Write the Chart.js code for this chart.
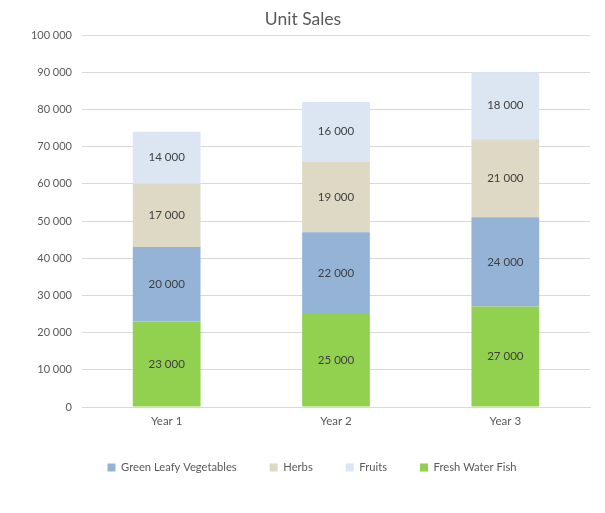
<!DOCTYPE html>
<html>
<head>
<meta charset="utf-8">
<script src="https://cdn.jsdelivr.net/npm/chart.js@4.4.0/dist/chart.umd.min.js"></script>
<style>
html,body{margin:0;padding:0;background:#fff;}
#wrap{width:605px;height:513px;position:relative;}
</style>
</head>
<body>
<div id="wrap"><canvas id="c" width="605" height="513"></canvas></div>
<script>
const categories = ["Year 1", "Year 2", "Year 3"];
const freshWaterFish = [23000, 25000, 27000];
const greenLeafyVegetables = [20000, 22000, 24000];
const herbs = [17000, 19000, 21000];
const fruits = [14000, 16000, 18000];
const legendOrder = ["Green Leafy Vegetables", "Herbs", "Fruits", "Fresh Water Fish"];

const FONT = "Lato, 'Liberation Sans', sans-serif";
const fmt = v => String(v).replace(/\B(?=(\d{3})+(?!\d))/g, " ");

const dataLabels = {
  id: 'dataLabels',
  afterDatasetsDraw(chart) {
    const ctx = chart.ctx;
    ctx.save();
    ctx.font = "11.5px " + FONT;
    ctx.fillStyle = "#404040";
    ctx.textAlign = "center";
    ctx.textBaseline = "middle";
    chart.data.datasets.forEach((ds, i) => {
      const meta = chart.getDatasetMeta(i);
      meta.data.forEach((bar, j) => {
        const y = (bar.y + bar.base) / 2;
        ctx.fillText(fmt(ds.data[j]), bar.x, y);
      });
    });
    ctx.restore();
  }
};

const shiftBoxes = {
  id: 'shiftBoxes',
  beforeDraw(chart) {
    const lg = chart.legend, t = chart.titleBlock;
    const c = (lg.left + lg.right) / 2;
    const dx = 312 - c;
    lg.left += dx; lg.right += dx;
    lg.top -= 6; lg.bottom -= 6;
    const tc = (t.left + t.right) / 2;
    const tdx = 303 - tc;
    t.left += tdx; t.right += tdx;
  }
};

new Chart(document.getElementById('c'), {
  type: 'bar',
  data: {
    labels: categories,
    datasets: [
      { label: "Fresh Water Fish", data: freshWaterFish, backgroundColor: "#92D050" },
      { label: "Green Leafy Vegetables", data: greenLeafyVegetables, backgroundColor: "#95B3D7" },
      { label: "Herbs", data: herbs, backgroundColor: "#DDD9C4" },
      { label: "Fruits", data: fruits, backgroundColor: "#DCE6F2" }
    ]
  },
  options: {
    responsive: false,
    animation: false,
    devicePixelRatio: 1,
    layout: { padding: { left: 0, right: 15, top: 0, bottom: 24 } },
    datasets: { bar: { categoryPercentage: 1.0, barPercentage: 0.4 } },
    plugins: {
      title: {
        display: true, text: "Unit Sales", color: "#595959",
        font: { family: FONT, size: 17.5, weight: 'normal' },
        padding: { top: 9, bottom: 5 }
      },
      legend: {
        position: 'bottom',
        labels: {
          color: "#595959",
          font: { family: FONT, size: 11.2 },
          boxWidth: 8, boxHeight: 8, padding: 33,
          sort: (a, b) => legendOrder.indexOf(a.text) - legendOrder.indexOf(b.text)
        }
      },
      tooltip: { enabled: false }
    },
    scales: {
      x: {
        stacked: true,
        grid: { display: false, drawTicks: false },
        border: { display: true, color: "#D9D9D9" },
        ticks: { color: "#595959", font: { family: FONT, size: 11.5 }, padding: 7 }
      },
      y: {
        stacked: true,
        min: 0, max: 100000,
        afterFit: s => { s.width = 82; },
        grid: { color: "#D9D9D9", drawTicks: false },
        border: { display: false },
        ticks: { stepSize: 10000, color: "#595959", font: { family: FONT, size: 11 }, padding: 10,
          callback: v => fmt(v) }
      }
    }
  },
  plugins: [dataLabels, shiftBoxes]
});
</script>
</body>
</html>
